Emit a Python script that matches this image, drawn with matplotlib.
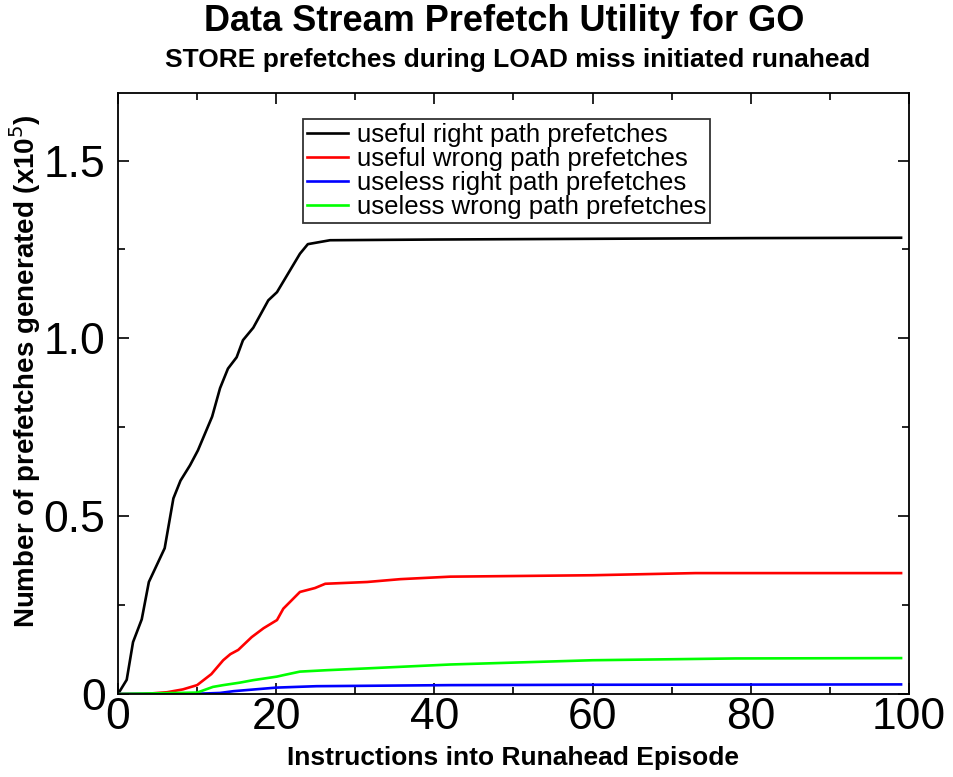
import matplotlib
matplotlib.use('Agg')
from matplotlib import pyplot as plt
from matplotlib.ticker import MultipleLocator

plt.rcParams['font.family'] = ['Liberation Sans', 'DejaVu Sans']

# values (x in instructions, y in units of 1e5)
useful_right_x = [0, 1.1, 1.9, 3.0, 3.9, 5.9, 7.0, 7.9, 9.1, 10.1, 11.9, 12.9, 13.9, 15.0, 15.8,
                  17.1, 19.0, 20.1, 23.0, 24.0, 26.8, 40, 60, 80, 99]
useful_right_y = [0, 0.04, 0.146, 0.21, 0.315, 0.41, 0.55, 0.60, 0.643, 0.685, 0.78, 0.86, 0.915,
                  0.947, 0.995, 1.03, 1.107, 1.13, 1.238, 1.265, 1.276, 1.278, 1.28, 1.282, 1.283]

useful_wrong_x = [0, 3.2, 6.2, 8.2, 10.0, 11.8, 13.3, 14.2, 15.2, 16.9, 18.4, 20.1, 20.9, 23.0,
                  24.9, 26.2, 31.5, 35.7, 42, 60, 73, 99]
useful_wrong_y = [0, 0.0, 0.005, 0.013, 0.025, 0.056, 0.095, 0.112, 0.124, 0.16, 0.185, 0.208,
                  0.24, 0.287, 0.298, 0.31, 0.315, 0.323, 0.33, 0.334, 0.34, 0.34]

useless_right_x = [0, 10.4, 12.9, 14.6, 20.0, 25.1, 42, 60, 99]
useless_right_y = [0, 0.001, 0.003, 0.008, 0.018, 0.022, 0.025, 0.026, 0.027]

useless_wrong_x = [0, 10.0, 12.0, 13.3, 15.4, 17.1, 20.1, 20.9, 23.0, 26.4, 31.4, 42, 60, 78, 99]
useless_wrong_y = [0, 0.004, 0.02, 0.025, 0.032, 0.039, 0.049, 0.053, 0.063, 0.067, 0.072,
                   0.083, 0.095, 0.10, 0.101]

labels = ['useful right path prefetches', 'useful wrong path prefetches',
          'useless right path prefetches', 'useless wrong path prefetches']
colors = ['#000000', '#ff0000', '#0000ff', '#00ff00']

fig = plt.figure(figsize=(9.54, 7.77), dpi=100)
ax = fig.add_axes([0.1237, 0.1068, 0.8291, 0.7735])

series = [(useful_right_x, useful_right_y), (useful_wrong_x, useful_wrong_y),
          (useless_right_x, useless_right_y), (useless_wrong_x, useless_wrong_y)]
for (xs, ys), lab, c in zip(series, labels, colors):
    ax.plot(xs, ys, color=c, lw=1.9, label=lab)

ax.set_xlim(0, 100)
ax.set_ylim(0, 1.69)
ax.xaxis.set_major_locator(MultipleLocator(20))
ax.xaxis.set_minor_locator(MultipleLocator(10))
ax.yaxis.set_major_locator(MultipleLocator(0.5))
ax.yaxis.set_minor_locator(MultipleLocator(0.25))
ax.set_yticks([0, 0.5, 1.0, 1.5])
ax.set_yticklabels(['0', '0.5', '1.0', '1.5'])
ax.tick_params(which='both', direction='in', top=True, right=True, width=1.2, labelsize=32)
ax.tick_params(which='major', length=8)
ax.tick_params(axis='x', which='major', pad=2)
ax.tick_params(axis='y', which='major', pad=9)
ax.tick_params(which='minor', length=5)
for s in ax.spines.values():
    s.set_linewidth(1.3)

ax.set_xlabel('Instructions into Runahead Episode', fontsize=19, fontweight='bold', labelpad=6)
ax.set_ylabel('Number of prefetches generated (x10$^{5}$)', fontsize=20, fontweight='bold')
ax.yaxis.set_label_coords(-0.095, 0.537)

fig.text(0.528, 0.995, 'Data Stream Prefetch Utility for GO', ha='center', va='top',
         fontsize=26, fontweight='bold')
fig.text(0.543, 0.938, 'STORE prefetches during LOAD miss initiated runahead', ha='center', va='top',
         fontsize=19, fontweight='bold')

leg = ax.legend(loc='upper left', bbox_to_anchor=(0.234, 0.957), fontsize=18.5, frameon=True,
                fancybox=False, edgecolor='black', handlelength=1.6, handletextpad=0.35,
                labelspacing=0.0, borderpad=0.15, borderaxespad=0)
leg.get_frame().set_linewidth(1.3)

fig.savefig('out.png', dpi=100)
